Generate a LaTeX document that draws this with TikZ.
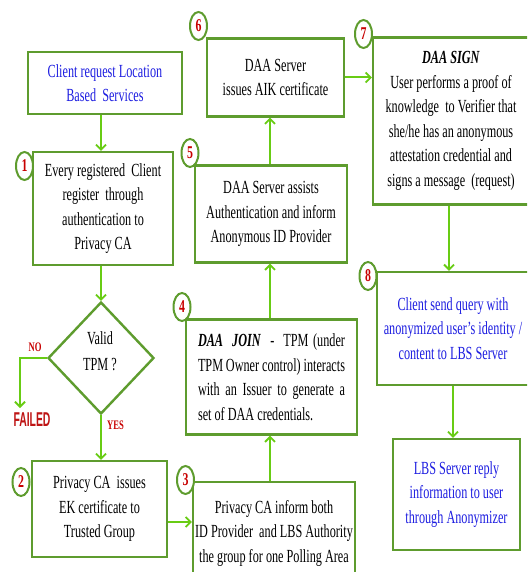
\documentclass[tikz,border=0pt]{standalone}
\usepackage{fontspec}
\setmainfont{Liberation Serif}[FakeStretch=0.66]
\newfontfamily\failfont{Liberation Sans}[FakeStretch=0.52]
\usetikzlibrary{arrows.meta,shapes.geometric}
\definecolor{boxgreen}{RGB}{94,156,46}
\definecolor{arrgreen}{RGB}{104,204,20}
\definecolor{numred}{RGB}{200,0,0}
\definecolor{txtblue}{RGB}{30,30,225}
\definecolor{failred}{RGB}{190,20,20}
\begin{document}
\begin{tikzpicture}[x=1pt,y=-1pt,
  box/.style={draw=boxgreen,line width=2.4pt,rectangle,inner sep=0pt,align=flush center,
    font=\fontsize{18.5}{24.5}\selectfont},
  conn/.style={draw=arrgreen,line width=2pt,-{Straight Barb[length=5pt,width=10pt,line width=1.8pt]}},
  num/.style={draw=boxgreen,line width=2pt,ellipse,minimum width=17pt,minimum height=28pt,
    inner sep=0pt,fill=white,text=numred,font=\bfseries\fontsize{18}{18}\selectfont},
  lab/.style={text=numred,font=\bfseries\fontsize{13}{13}\selectfont,inner sep=0pt},
]
\useasboundingbox (0,0) rectangle (527,572);
\clip (0,0) rectangle (527,572);
\fill[white] (0,0) rectangle (527,572);

% boxes
\node[box,minimum width=154pt,minimum height=62pt,text width=150pt,text=txtblue] (b0) at (105,83)
  {Client request Location\\Based\ \ Services};
\node[box,minimum width=140pt,minimum height=113pt,text width=136pt] (b1) at (103,208.5)
  {Every registered\ \ Client\\register\ \ through\\authentication to\\Privacy CA};
\node[draw=boxgreen,line width=2.4pt,diamond,minimum width=106pt,minimum height=112pt,inner sep=0pt] (d) at (101,358) {};
\node[inner sep=0pt,align=flush center,font=\fontsize{18.5}{26}\selectfont] (dt) at (100,351) {Valid\\TPM ?};
\node[box,minimum width=135pt,minimum height=96pt,text width=131pt] (b2) at (99.5,509)
  {Privacy CA\ \ issues\\EK certificate\ to\\Trusted Group};
\node[box,minimum width=162pt,minimum height=102pt,text width=160pt] (b3) at (274,533)
  {Privacy CA inform both\\ID Provider\ \ and LBS Authority\\the group for one Polling Area};
\node[box,minimum width=171pt,minimum height=115pt,text width=147pt,align=justify] (b4) at (271.5,377)
  {\textbf{\textit{DAA\ \ JOIN}}\ \ -\ \ TPM (under\linebreak TPM Owner control) interacts\linebreak with an Issuer to generate a\linebreak set of DAA credentials.};
\node[box,minimum width=152pt,minimum height=97pt,text width=148pt] (b5) at (271,214)
  {DAA Server assists\\Authentication and inform\\Anonymous ID Provider};
\node[box,minimum width=137pt,minimum height=78pt,text width=133pt] (b6) at (275.5,77.5)
  {DAA Server\\issues AIK certificate};
\node[box,minimum width=156pt,minimum height=167pt,text width=150pt] (b7) at (451,121)
  {\textbf{\textit{DAA SIGN}}\\User performs a proof of\\knowledge\ \ to Verifier that\\she/he has an anonymous\\attestation credential\ and\\signs a message\ \ (request)};
\node[box,minimum width=152pt,minimum height=113pt,text width=148pt,text=txtblue] (b8) at (453,328.5)
  {Client send query with\\anonymized user's identity /\\content to LBS\ Server};
\node[box,minimum width=127pt,minimum height=111pt,text width=123pt,text=txtblue] (b9) at (456.5,494.5)
  {LBS Server reply\\information to user\\through Anonymizer};

% labels
\node[lab] (no) at (35,347.5) {NO};
\node[lab] (yes) at (115.5,425.5) {YES};
\node[inner sep=0pt,text=failred,font=\failfont\bfseries\fontsize{20}{20}\selectfont] (fail) at (32,420) {FAILED};

% helper coordinates
\coordinate (cx) at (270,0);
\coordinate (y522) at (0,522);
\coordinate (x449) at (449,0);
\coordinate (x453) at (453,0);
\coordinate (nf) at (20,408);

% connectors
\draw[conn] (b0.south -| d.north) -- (b1.north -| d.north);
\draw[conn] (b1.south -| d.north) -- (d.north);
\draw[conn] (d.west) -| (nf);
\draw[conn] (d.south) -- (b2.north -| d.south);
\draw[conn] (b2.east |- y522) -- (b3.west |- y522);
\draw[conn] (b3.north -| cx) -- (b4.south -| cx);
\draw[conn] (b4.north -| cx) -- (b5.south -| cx);
\draw[conn] (b5.north -| cx) -- (b6.south -| cx);
\draw[conn] (b6.east) -- (b7.west |- b6.east);
\draw[conn] (b7.south -| x449) -- (b8.north -| x449);
\draw[conn] (b8.south -| x453) -- (b9.north -| x453);

% step numbers
\node[num] (n1) at (24.5,166) {1};
\node[num] (n2) at (21,482) {2};
\node[num] (n3) at (185.5,480) {3};
\node[num] (n4) at (182,307) {4};
\node[num] (n5) at (190,153) {5};
\node[num] (n6) at (198.5,26) {6};
\node[num] (n7) at (363.5,34) {7};
\node[num] (n8) at (368,276) {8};
\end{tikzpicture}
\end{document}
